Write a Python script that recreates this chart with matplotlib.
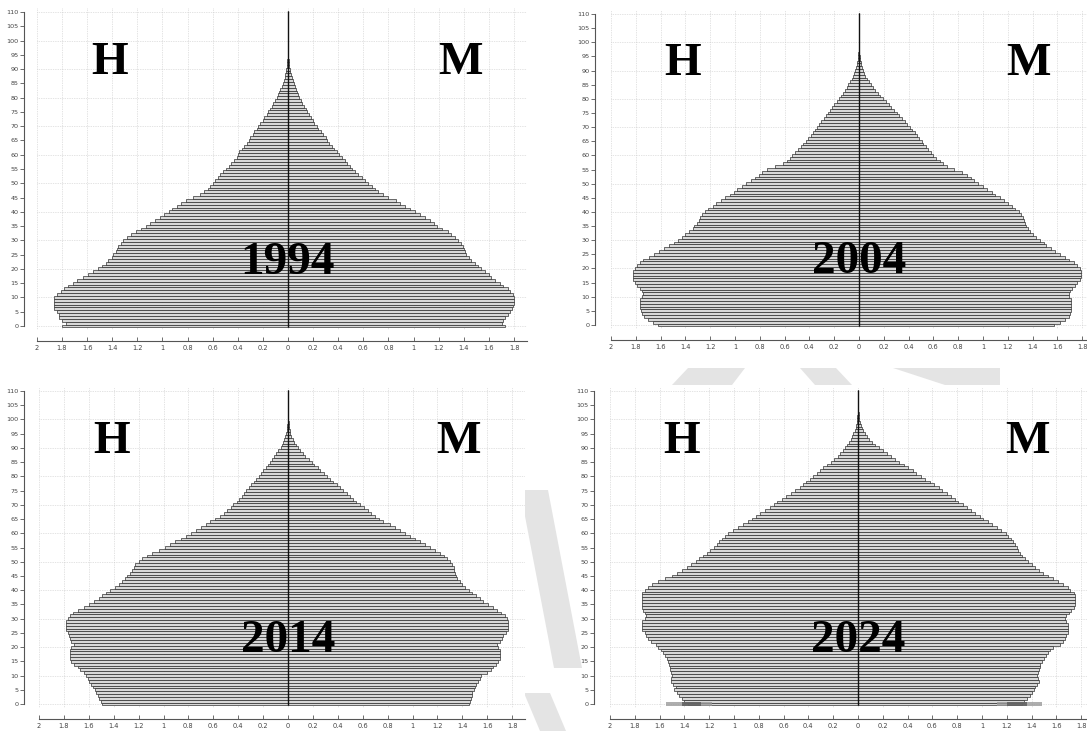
import matplotlib
matplotlib.use("Agg")
import matplotlib.pyplot as plt
from matplotlib.patches import Polygon

# ---------------- data (percent of population by single year of age) ----------------
ages = list(range(0, 111))
years = ["1994", "2004", "2014", "2024"]

h_1994 = [1.80, 1.77, 1.80, 1.82, 1.82, 1.84, 1.86, 1.86, 1.86, 1.86,
          1.86, 1.84, 1.81, 1.78, 1.75, 1.71, 1.68, 1.63, 1.59, 1.55,
          1.51, 1.48, 1.45, 1.43, 1.40, 1.39, 1.37, 1.36, 1.35, 1.33,
          1.31, 1.28, 1.25, 1.21, 1.17, 1.13, 1.10, 1.06, 1.02, 0.99,
          0.95, 0.92, 0.88, 0.85, 0.81, 0.76, 0.70, 0.67, 0.64, 0.62,
          0.60, 0.58, 0.56, 0.54, 0.52, 0.49, 0.47, 0.45, 0.43, 0.41,
          0.40, 0.39, 0.37, 0.35, 0.33, 0.31, 0.30, 0.28, 0.27, 0.25,
          0.24, 0.22, 0.20, 0.19, 0.17, 0.16, 0.14, 0.13, 0.12, 0.10,
          0.09, 0.08, 0.07, 0.06, 0.05, 0.04, 0.033, 0.027, 0.022, 0.017,
          0.012, 0.009, 0.006, 0.004, 0.003, 0.002, 0.0015, 0.001, 0.0008, 0.0006,
          0.0004, 0.0003, 0.0002, 0.0002, 0.0001, 0.0001, 0, 0, 0, 0, 0]
m_1994 = [1.73, 1.70, 1.71, 1.73, 1.75, 1.77, 1.78, 1.79, 1.80, 1.80,
          1.80, 1.79, 1.77, 1.75, 1.71, 1.69, 1.65, 1.62, 1.60, 1.57,
          1.54, 1.51, 1.49, 1.46, 1.44, 1.42, 1.41, 1.40, 1.39, 1.38,
          1.35, 1.33, 1.30, 1.27, 1.23, 1.19, 1.16, 1.13, 1.09, 1.05,
          1.01, 0.97, 0.93, 0.89, 0.86, 0.80, 0.76, 0.72, 0.69, 0.67,
          0.64, 0.61, 0.59, 0.56, 0.53, 0.51, 0.49, 0.47, 0.45, 0.43,
          0.41, 0.39, 0.37, 0.35, 0.33, 0.31, 0.30, 0.28, 0.26, 0.24,
          0.23, 0.21, 0.20, 0.18, 0.17, 0.155, 0.14, 0.13, 0.115, 0.10,
          0.09, 0.08, 0.07, 0.06, 0.052, 0.044, 0.037, 0.030, 0.024, 0.019,
          0.014, 0.010, 0.007, 0.005, 0.003, 0.002, 0.0015, 0.001, 0.0008, 0.0006,
          0.0004, 0.0003, 0.0002, 0.0002, 0.0001, 0.0001, 0, 0, 0, 0, 0]

h_2004 = [1.62, 1.66, 1.70, 1.73, 1.75, 1.76, 1.77, 1.77, 1.77, 1.77,
          1.75, 1.74, 1.75, 1.77, 1.79, 1.81, 1.82, 1.82, 1.82, 1.82,
          1.81, 1.79, 1.77, 1.74, 1.69, 1.65, 1.61, 1.57, 1.53, 1.49,
          1.46, 1.43, 1.40, 1.37, 1.34, 1.33, 1.31, 1.29, 1.28, 1.27,
          1.24, 1.22, 1.18, 1.15, 1.11, 1.08, 1.04, 1.01, 0.98, 0.94,
          0.91, 0.87, 0.84, 0.81, 0.78, 0.74, 0.68, 0.61, 0.58, 0.56,
          0.54, 0.52, 0.49, 0.47, 0.45, 0.43, 0.41, 0.39, 0.375, 0.355,
          0.335, 0.32, 0.305, 0.285, 0.265, 0.25, 0.23, 0.215, 0.20, 0.18,
          0.16, 0.145, 0.13, 0.115, 0.10, 0.085, 0.072, 0.06, 0.05, 0.04,
          0.032, 0.025, 0.019, 0.014, 0.010, 0.007, 0.005, 0.003, 0.002, 0.0015,
          0.001, 0.0008, 0.0005, 0.0003, 0.0002, 0.0001, 0.0001, 0, 0, 0, 0]
m_2004 = [1.57, 1.62, 1.66, 1.69, 1.70, 1.71, 1.71, 1.71, 1.71, 1.71,
          1.69, 1.69, 1.70, 1.72, 1.74, 1.76, 1.78, 1.79, 1.79, 1.79,
          1.78, 1.76, 1.73, 1.69, 1.66, 1.62, 1.58, 1.55, 1.51, 1.49,
          1.46, 1.43, 1.40, 1.38, 1.36, 1.35, 1.34, 1.33, 1.32, 1.31,
          1.29, 1.26, 1.23, 1.20, 1.17, 1.14, 1.10, 1.07, 1.03, 1.00,
          0.96, 0.93, 0.90, 0.87, 0.83, 0.77, 0.71, 0.68, 0.65, 0.62,
          0.60, 0.58, 0.56, 0.54, 0.52, 0.505, 0.485, 0.465, 0.45, 0.43,
          0.41, 0.39, 0.37, 0.35, 0.325, 0.305, 0.285, 0.26, 0.24, 0.215,
          0.195, 0.17, 0.15, 0.13, 0.11, 0.095, 0.078, 0.063, 0.05, 0.04,
          0.031, 0.024, 0.018, 0.013, 0.009, 0.006, 0.004, 0.003, 0.002, 0.0015,
          0.001, 0.0008, 0.0005, 0.0003, 0.0002, 0.0001, 0.0001, 0, 0, 0, 0]

h_2014 = [1.49, 1.50, 1.52, 1.53, 1.54, 1.55, 1.57, 1.58, 1.60, 1.61,
          1.62, 1.64, 1.67, 1.69, 1.72, 1.74, 1.75, 1.75, 1.75, 1.75,
          1.74, 1.72, 1.74, 1.75, 1.76, 1.77, 1.78, 1.78, 1.78, 1.78,
          1.77, 1.75, 1.73, 1.69, 1.64, 1.60, 1.56, 1.52, 1.49, 1.46,
          1.43, 1.39, 1.36, 1.33, 1.31, 1.29, 1.27, 1.25, 1.24, 1.23,
          1.20, 1.17, 1.13, 1.09, 1.04, 0.99, 0.95, 0.91, 0.86, 0.82,
          0.78, 0.74, 0.70, 0.66, 0.63, 0.585, 0.55, 0.515, 0.49, 0.46,
          0.44, 0.41, 0.39, 0.37, 0.355, 0.335, 0.315, 0.295, 0.275, 0.255,
          0.235, 0.215, 0.20, 0.18, 0.16, 0.145, 0.13, 0.11, 0.095, 0.08,
          0.06, 0.05, 0.04, 0.03, 0.022, 0.016, 0.011, 0.008, 0.005, 0.003,
          0.002, 0.0015, 0.001, 0.0007, 0.0005, 0.0003, 0.0002, 0.0001, 0, 0, 0]
m_2014 = [1.45, 1.46, 1.47, 1.48, 1.48, 1.49, 1.50, 1.51, 1.53, 1.54,
          1.55, 1.60, 1.63, 1.65, 1.67, 1.69, 1.70, 1.70, 1.70, 1.70,
          1.69, 1.68, 1.70, 1.72, 1.73, 1.75, 1.77, 1.77, 1.77, 1.77,
          1.76, 1.74, 1.71, 1.68, 1.65, 1.61, 1.57, 1.54, 1.51, 1.48,
          1.45, 1.42, 1.40, 1.38, 1.36, 1.35, 1.34, 1.33, 1.33, 1.32,
          1.30, 1.28, 1.25, 1.22, 1.18, 1.14, 1.10, 1.06, 1.02, 0.98,
          0.94, 0.90, 0.86, 0.82, 0.76, 0.73, 0.70, 0.67, 0.64, 0.61,
          0.58, 0.55, 0.52, 0.50, 0.47, 0.44, 0.42, 0.39, 0.36, 0.34,
          0.31, 0.29, 0.26, 0.24, 0.21, 0.19, 0.165, 0.14, 0.12, 0.10,
          0.08, 0.065, 0.05, 0.038, 0.028, 0.02, 0.014, 0.01, 0.007, 0.005,
          0.003, 0.002, 0.0015, 0.001, 0.0007, 0.0005, 0.0003, 0.0002, 0.0001, 0, 0]

h_2024 = [1.37, 1.40, 1.42, 1.44, 1.46, 1.48, 1.47, 1.49, 1.51, 1.51,
          1.50, 1.51, 1.52, 1.52, 1.525, 1.53, 1.54, 1.56, 1.575, 1.59,
          1.61, 1.63, 1.67, 1.69, 1.71, 1.72, 1.74, 1.74, 1.74, 1.74,
          1.72, 1.71, 1.72, 1.73, 1.74, 1.745, 1.745, 1.745, 1.745, 1.74,
          1.72, 1.69, 1.66, 1.61, 1.56, 1.50, 1.46, 1.42, 1.38, 1.35,
          1.31, 1.28, 1.25, 1.22, 1.19, 1.16, 1.14, 1.12, 1.10, 1.075,
          1.05, 1.01, 0.97, 0.93, 0.89, 0.855, 0.82, 0.79, 0.75, 0.71,
          0.68, 0.65, 0.61, 0.58, 0.54, 0.51, 0.47, 0.44, 0.42, 0.39,
          0.36, 0.33, 0.305, 0.28, 0.25, 0.22, 0.195, 0.165, 0.145, 0.125,
          0.105, 0.09, 0.075, 0.06, 0.048, 0.037, 0.028, 0.02, 0.014, 0.01,
          0.007, 0.005, 0.003, 0.002, 0.0015, 0.001, 0.0007, 0.0005, 0.0003, 0.0002, 0.0001]
m_2024 = [1.32, 1.34, 1.36, 1.39, 1.40, 1.42, 1.43, 1.44, 1.46, 1.45,
          1.44, 1.45, 1.46, 1.47, 1.47, 1.48, 1.50, 1.52, 1.535, 1.55,
          1.57, 1.63, 1.65, 1.67, 1.68, 1.69, 1.69, 1.69, 1.69, 1.68,
          1.67, 1.68, 1.70, 1.72, 1.74, 1.75, 1.75, 1.75, 1.75, 1.74,
          1.71, 1.69, 1.65, 1.61, 1.57, 1.53, 1.49, 1.46, 1.43, 1.40,
          1.37, 1.35, 1.32, 1.305, 1.29, 1.28, 1.265, 1.25, 1.23, 1.21,
          1.19, 1.15, 1.12, 1.08, 1.05, 1.01, 0.98, 0.945, 0.91, 0.88,
          0.85, 0.81, 0.78, 0.75, 0.72, 0.68, 0.65, 0.61, 0.58, 0.54,
          0.51, 0.47, 0.44, 0.40, 0.37, 0.33, 0.30, 0.265, 0.23, 0.20,
          0.17, 0.14, 0.115, 0.09, 0.07, 0.055, 0.042, 0.031, 0.022, 0.015,
          0.011, 0.008, 0.005, 0.003, 0.002, 0.0015, 0.001, 0.0007, 0.0005, 0.0003, 0.0002]

# blurred overlay at the age-0 bar of 2024: (inner, outer) extents
smudge_2024_h_outer = (1.18, 1.55)
smudge_2024_h_inner = (1.27, 1.42)
smudge_2024_m_outer = (1.12, 1.48)
smudge_2024_m_inner = (1.20, 1.36)

x_ticks = [-2.0, -1.8, -1.6, -1.4, -1.2, -1.0, -0.8, -0.6, -0.4, -0.2,
           0.0, 0.2, 0.4, 0.6, 0.8, 1.0, 1.2, 1.4, 1.6, 1.8]
x_tick_labels = ["2", "1.8", "1.6", "1.4", "1.2", "1", "0.8", "0.6", "0.4", "0.2",
                 "0", "0.2", "0.4", "0.6", "0.8", "1", "1.2", "1.4", "1.6", "1.8"]
y_ticks = list(range(0, 111, 5))
y_grid = list(range(0, 111, 10))

left_label = "H"
right_label = "M"

# ---------------- layout ----------------
W, H = 1087, 731
fig = plt.figure(figsize=(W / 100, H / 100), dpi=100)
fig.patch.set_facecolor("white")

SERIF = ["Liberation Serif", "DejaVu Serif"]

# (year, men, women, centre x px, px per unit, y px of age 0, y px of age 110)
panels = [
    (years[0], h_1994, m_1994, 288, 125.6, 326, 12),
    (years[1], h_2004, m_2004, 859, 124.0, 325, 14),
    (years[2], h_2014, m_2014, 288, 124.5, 704, 391),
    (years[3], h_2024, m_2024, 858, 124.0, 704, 391),
]

XMIN, XMAX = -2.0, 1.9
YMIN, YMAX = -1.5, 111.5

axes = []
for year, men, women, cx, ppu, y0, y110 in panels:
    ppy = (y0 - y110) / 110.0
    left = cx + XMIN * ppu
    width = (XMAX - XMIN) * ppu
    top = y110 - (YMAX - 110) * ppy
    height = (YMAX - YMIN) * ppy
    ax = fig.add_axes([left / W, 1 - (top + height) / H, width / W, height / H])
    axes.append(ax)
    ax.set_xlim(XMIN, XMAX)
    ax.set_ylim(YMIN, YMAX)

    # grid
    for gx in x_ticks:
        ax.axvline(gx, color="#c8c8c8", lw=0.5, ls=(0, (1, 1.5)), zorder=0)
    for gy in y_grid:
        ax.axhline(gy, color="#c8c8c8", lw=0.5, ls=(0, (1, 1.5)), zorder=0)

    ax.barh(ages, [-v for v in men], height=1.0, color="#d8d8d8",
            edgecolor="#1e1e1e", linewidth=0.45, zorder=2)
    ax.barh(ages, women, height=1.0, color="#d8d8d8",
            edgecolor="#1e1e1e", linewidth=0.45, zorder=2)
    ax.vlines(0, ages[0] - 0.5, ages[-1] + 0.5, color="#111111", lw=1.0, zorder=3)

    # axes styling (R-like detached axes)
    for s in ("top", "right"):
        ax.spines[s].set_visible(False)
    yspine_px = cx - 264
    xspine_px = y0 + 15
    ax.spines["left"].set_position(("outward", (left - yspine_px) * 0.72))
    ax.spines["bottom"].set_position(("outward", (xspine_px - (top + height)) * 0.72))
    ax.spines["left"].set_bounds(0, 110)
    ax.spines["bottom"].set_bounds(XMIN, XMAX)
    for s in ("left", "bottom"):
        ax.spines[s].set_color("#555555")
        ax.spines[s].set_linewidth(0.8)

    ax.set_yticks(y_ticks)
    ax.set_yticklabels([str(t) for t in y_ticks])
    ax.set_xticks(x_ticks)
    ax.set_xticklabels(x_tick_labels)
    ax.tick_params(axis="y", direction="out", length=3, width=0.6, colors="#555555",
                   labelsize=4.6, labelcolor="#444444", pad=1)
    ax.tick_params(axis="x", direction="in", length=3, width=0.6, colors="#555555",
                   labelsize=4.8, labelcolor="#444444", pad=3)

    ax.text(-1.42, 88.3, left_label, fontsize=34, fontweight="bold", family=SERIF,
            ha="center", va="baseline", zorder=5)
    ax.text(1.37, 88.3, right_label, fontsize=34, fontweight="bold", family=SERIF,
            ha="center", va="baseline", zorder=5)
    ax.text(0, 18.3, year, fontsize=34, fontweight="bold", family=SERIF,
            ha="center", va="baseline", zorder=5)

# blurred age-0 overlay in the 2024 panel
ax24 = axes[3]
for (a, b), col in ((smudge_2024_h_outer, "#9a9a9a"), (smudge_2024_h_inner, "#5a5a5a")):
    ax24.barh([ages[0]], [-(b - a)], left=-a, height=1.5, color=col, alpha=0.8,
              edgecolor="none", zorder=2.5)
for (a, b), col in ((smudge_2024_m_outer, "#9a9a9a"), (smudge_2024_m_inner, "#5a5a5a")):
    ax24.barh([ages[0]], [b - a], left=a, height=1.5, color=col, alpha=0.8,
              edgecolor="none", zorder=2.5)

# ---------------- faint background chevrons (watermark) ----------------
def px_poly(pts):
    return Polygon([(x / W, 1 - y / H) for x, y in pts], closed=True,
                   transform=fig.transFigure, facecolor="#e4e4e4",
                   edgecolor="none", zorder=-1)

shapes = [
    [(520, 490), (548, 490), (582, 668), (554, 668)],
    [(524, 693), (550, 693), (566, 731), (540, 731)],
    [(688, 368), (745, 368), (732, 385), (672, 385)],
    [(800, 368), (836, 368), (852, 385), (815, 385)],
    [(893, 368), (1000, 368), (1000, 385), (945, 385)],
]
for s in shapes:
    fig.add_artist(px_poly(s))

fig.savefig("out.png", dpi=100, facecolor="white")
